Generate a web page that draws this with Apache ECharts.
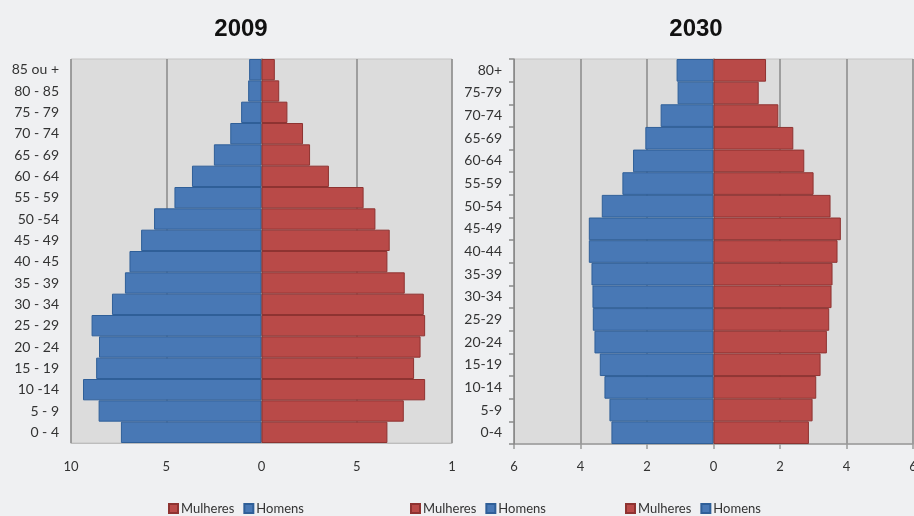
<!DOCTYPE html>
<html>
<head>
<meta charset="utf-8">
<script src="https://cdn.jsdelivr.net/npm/echarts@6/dist/echarts.min.js"></script>
<style>
html,body{margin:0;padding:0;background:#eff0f2;}
#c{width:914px;height:516px;}
</style>
</head>
<body>
<div id="c"></div>
<script>
// ---- data (bottom row first) ----
const ages2009 = ['0 - 4','5 - 9','10 -14','15 - 19','20 - 24','25 - 29','30 - 34','35 - 39','40 - 45','45 - 49','50 -54','55 - 59','60 - 64','65 - 69','70 - 74','75 - 79','80 - 85','85 ou +'];
const homens2009 = [7.38, 8.55, 9.37, 8.68, 8.53, 8.92, 7.85, 7.17, 6.93, 6.32, 5.64, 4.57, 3.65, 2.5, 1.64, 1.07, 0.7, 0.65];
const mulheres2009 = [6.61, 7.47, 8.59, 8.01, 8.35, 8.59, 8.52, 7.52, 6.61, 6.73, 5.98, 5.36, 3.54, 2.55, 2.18, 1.36, 0.93, 0.7];

const ages2030 = ['0-4','5-9','10-14','15-19','20-24','25-29','30-34','35-39','40-44','45-49','50-54','55-59','60-64','65-69','70-74','75-79','80+'];
const homens2030 = [3.07, 3.13, 3.28, 3.42, 3.58, 3.63, 3.64, 3.67, 3.75, 3.75, 3.36, 2.74, 2.42, 2.05, 1.59, 1.08, 1.11];
const mulheres2030 = [2.87, 2.98, 3.09, 3.22, 3.41, 3.48, 3.55, 3.58, 3.73, 3.83, 3.52, 3.01, 2.73, 2.40, 1.95, 1.36, 1.58];

const ticks2009 = [-10, -5, 0, 5, 10];
const tickLabels2009 = ['10', '5', '0', '5', '1'];
const ticks2030 = [-6, -4, -2, 0, 2, 4, 6];
const tickLabels2030 = ['6', '4', '2', '0', '2', '4', '6'];

const titles = ['2009', '2030'];
const legendNames = ['Mulheres', 'Homens'];

// ---- styles ----
const BLUE = '#4878b5', BLUE_B = '#2f5f98';
const RED = '#b94a48', RED_B = '#8e3331';
const FONT = 'Lato, "Liberation Sans", sans-serif';
const neg = a => a.map(v => -v);
const fmt = (ticks, labels) => v => { const i = ticks.indexOf(Math.round(v)); return i >= 0 ? labels[i] : ''; };

const chart = echarts.init(document.getElementById('c'), null, {renderer: 'canvas'});
const catAxis = (grid, data) => ({
  type: 'category', gridIndex: grid, data: data,
  axisLine: {show: true, lineStyle: {color: '#8a8a8a', width: 1.5}},
  axisTick: {show: false},
  axisLabel: {fontFamily: FONT, fontSize: 14, color: '#333', margin: 12, interval: 0}
});
const titleStyle = {fontFamily: '"Liberation Sans", Arial, sans-serif', fontWeight: 'bold', fontSize: 24, color: '#111'};
chart.setOption({
  backgroundColor: '#eff0f2',
  animation: false,
  title: [
    {text: titles[0], left: 236, top: 12, textAlign: 'center', textStyle: titleStyle},
    {text: titles[1], left: 691, top: 12, textAlign: 'center', textStyle: titleStyle}
  ],
  legend: [163, 405, 620].map(x => ({
    data: legendNames, left: x, top: 497, itemWidth: 9, itemHeight: 9, itemGap: 9,
    icon: 'rect', textStyle: {fontFamily: FONT, fontSize: 13, color: '#333', padding: [0,0,0,-2]}
  })),
  grid: [
    {left: 71, right: 462, top: 59, bottom: 73, show: true, backgroundColor: '#dcdcdc', borderColor: '#c4c4c4', borderWidth: 1, outerBoundsMode: 'none', containLabel: false},
    {left: 514, right: 1, top: 59, bottom: 72, show: true, backgroundColor: '#dcdcdc', borderColor: '#c4c4c4', borderWidth: 1, outerBoundsMode: 'none', containLabel: false}
  ],
  xAxis: [
    {type: 'value', gridIndex: 0, min: -10, max: 10, interval: 5,
     axisLine: {show: true, onZero: false, lineStyle: {color: '#bdbdbd'}},
     axisTick: {show: false},
     splitLine: {show: true, lineStyle: {color: '#8a8a8a', width: 1.5}},
     axisLabel: {formatter: fmt(ticks2009, tickLabels2009), fontFamily: FONT, fontSize: 13, color: '#333', margin: 17}},
    {type: 'value', gridIndex: 1, min: -6, max: 6, interval: 2,
     axisLine: {show: true, onZero: false, lineStyle: {color: '#9a9a9a', width: 1.5}},
     axisTick: {show: true, length: 5, lineStyle: {color: '#9a9a9a', width: 1.5}},
     splitLine: {show: true, lineStyle: {color: '#8a8a8a', width: 1.5}},
     axisLabel: {formatter: fmt(ticks2030, tickLabels2030), fontFamily: FONT, fontSize: 13, color: '#333', margin: 16, showMaxLabel: true}}
  ],
  yAxis: [
    catAxis(0, ages2009),
    catAxis(1, ages2030),
    {type: 'category', gridIndex: 1, data: ages2030, position: 'left', z: 10,
     axisLine: {show: true, onZero: true, lineStyle: {color: '#8a8a8a', width: 1}},
     axisTick: {show: true, length: 5, lineStyle: {color: '#8a8a8a', width: 1.5}},
     axisLabel: {show: false}, splitLine: {show: false}}
  ],
  series: [
    {name: 'Homens', type: 'bar', xAxisIndex: 0, yAxisIndex: 0, data: neg(homens2009),
     barCategoryGap: '0%', barGap: '-100%', itemStyle: {color: BLUE, borderColor: BLUE_B, borderWidth: 1}},
    {name: 'Mulheres', type: 'bar', xAxisIndex: 0, yAxisIndex: 0, data: mulheres2009,
     barCategoryGap: '0%', barGap: '-100%', itemStyle: {color: RED, borderColor: RED_B, borderWidth: 1}},
    {name: 'Homens', type: 'bar', xAxisIndex: 1, yAxisIndex: 1, data: neg(homens2030),
     barCategoryGap: '0%', barGap: '-100%', itemStyle: {color: BLUE, borderColor: BLUE_B, borderWidth: 1}},
    {name: 'Mulheres', type: 'bar', xAxisIndex: 1, yAxisIndex: 1, data: mulheres2030,
     barCategoryGap: '0%', barGap: '-100%', itemStyle: {color: RED, borderColor: RED_B, borderWidth: 1}}
  ]
});
</script>
</body>
</html>
